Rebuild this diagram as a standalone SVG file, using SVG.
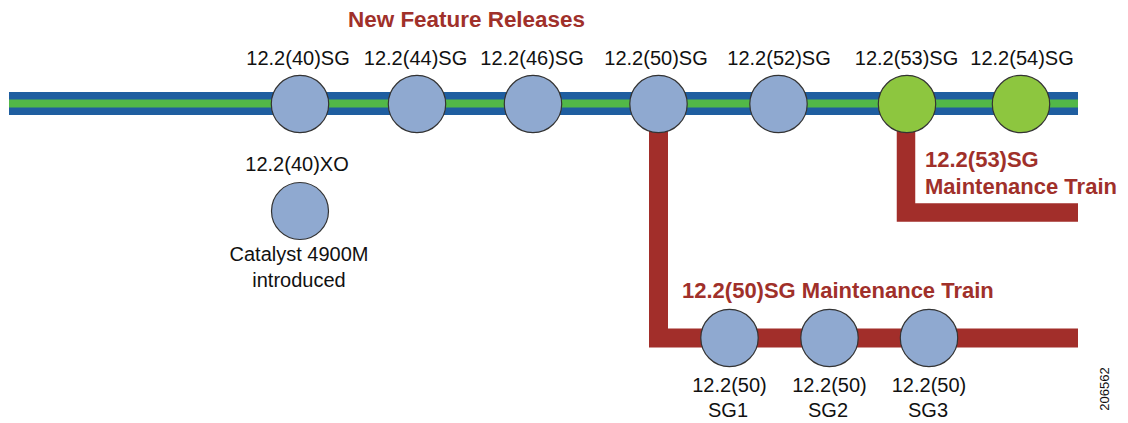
<svg xmlns="http://www.w3.org/2000/svg" width="1128" height="423" viewBox="0 0 1128 423">
<style>
.lbl{font-family:"Liberation Sans",Arial,sans-serif;font-size:20px;fill:#111;text-anchor:middle}
.red{font-family:"Liberation Sans",Arial,sans-serif;font-size:22px;font-weight:bold;fill:#a0302a}
.rel{fill:#8fa9d0;stroke:#333;stroke-width:1.2}
.grn{fill:#8dc63f;stroke:#333;stroke-width:1.2}
.train{fill:none;stroke:#a22e2a;stroke-linejoin:miter}
</style>
<rect width="1128" height="423" fill="#fff"/>
<g id="connectors">
  <rect x="9" y="92" width="1069" height="23" fill="#1f5ea0"/>
  <rect x="9" y="99.5" width="1069" height="8" fill="#52b848"/>
  <path class="train" d="M658.5,110 V338 H1078" stroke-width="19"/>
  <path class="train" d="M906,110 V212.5 H1078" stroke-width="18.5"/>
</g>
<text class="red" x="466.5" y="27" text-anchor="middle" textLength="237" lengthAdjust="spacingAndGlyphs">New Feature Releases</text>
<g id="r40"><circle class="rel" cx="300" cy="104" r="28.7"/><text class="lbl" x="298" y="65">12.2(40)SG</text></g>
<g id="r44"><circle class="rel" cx="417" cy="104" r="28.7"/><text class="lbl" x="415.5" y="65">12.2(44)SG</text></g>
<g id="r46"><circle class="rel" cx="533" cy="104" r="28.7"/><text class="lbl" x="532" y="65">12.2(46)SG</text></g>
<g id="r50"><circle class="rel" cx="658.5" cy="104" r="28.7"/><text class="lbl" x="656" y="65">12.2(50)SG</text></g>
<g id="r52"><circle class="rel" cx="778.5" cy="104" r="28.7"/><text class="lbl" x="779" y="65">12.2(52)SG</text></g>
<g id="r53"><circle class="grn" cx="907" cy="104" r="28.7"/><text class="lbl" x="906.5" y="65">12.2(53)SG</text></g>
<g id="r54"><circle class="grn" cx="1021" cy="104" r="28.7"/><text class="lbl" x="1022" y="65">12.2(54)SG</text></g>
<g id="xo"><text class="lbl" x="297" y="171">12.2(40)XO</text><circle class="rel" cx="300" cy="211" r="28.5"/><text class="lbl" x="299" y="261">Catalyst 4900M</text><text class="lbl" x="299" y="287">introduced</text></g>
<g id="train53-label"><text class="red" x="925" y="167">12.2(53)SG</text><text class="red" x="925" y="193.5">Maintenance Train</text></g>
<g id="train50-label"><text class="red" x="682" y="298">12.2(50)SG Maintenance Train</text></g>
<g id="sg1"><circle class="rel" cx="729.5" cy="338" r="28.7"/><text class="lbl" x="729.5" y="392">12.2(50)</text><text class="lbl" x="728" y="417">SG1</text></g>
<g id="sg2"><circle class="rel" cx="829.5" cy="338" r="28.7"/><text class="lbl" x="829.5" y="392">12.2(50)</text><text class="lbl" x="828" y="417">SG2</text></g>
<g id="sg3"><circle class="rel" cx="929" cy="338" r="28.7"/><text class="lbl" x="929" y="392">12.2(50)</text><text class="lbl" x="928" y="417">SG3</text></g>
<text font-family="'Liberation Sans',Arial,sans-serif" font-size="13" fill="#111" text-anchor="middle" transform="translate(1109,389) rotate(-90)">206562</text>
</svg>
